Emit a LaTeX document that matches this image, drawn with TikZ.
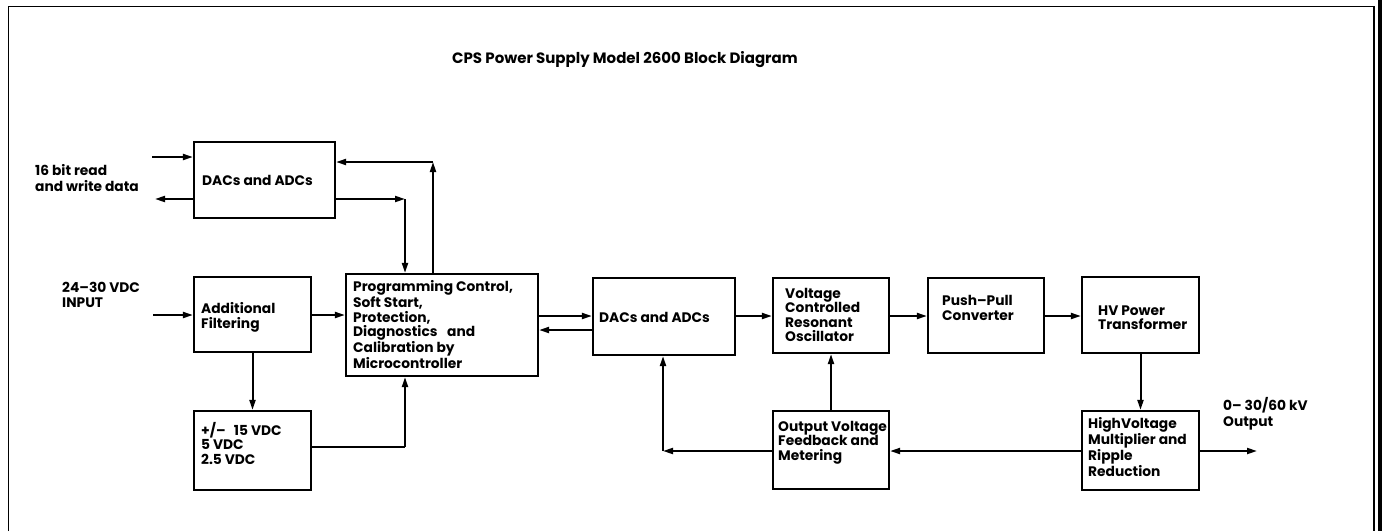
\documentclass[tikz,border=0pt]{standalone}
\usepackage{fontspec}
\setmainfont{Poppins}
\usetikzlibrary{arrows.meta}
\begin{document}
\begin{tikzpicture}[x=1pt,y=-1pt,
  blk/.style={draw,line width=2.2pt,rectangle,inner sep=0pt},
  txt/.style={anchor=west,align=left,inner sep=0pt,font=\bfseries\fontsize{13.8}{14.5}\selectfont},
  conn/.style={line width=2pt},
  arr/.style={conn,-{Triangle[length=10pt,width=6pt]}},
  frame/.style={line width=1.3pt}]
\useasboundingbox (0,0) rectangle (1382,531);
% frame
\draw[frame] (8.5,531) -- (8.5,6.5) -- (1374,6.5) -- (1374,531);
\fill (1378,0) rectangle (1382,531);

% title
\node[txt,font=\bfseries\fontsize{15}{16}\selectfont] (title) at (452,60) {CPS Power Supply Model 2600 Block Diagram};

% boxes
\node[blk,minimum width=141pt,minimum height=76pt] (dact) at (264.5,180) {};
\node[blk,minimum width=117pt,minimum height=75pt] (filt) at (252.5,314.5) {};
\node[blk,minimum width=117pt,minimum height=79pt] (pwr) at (252.5,450.5) {};
\node[blk,minimum width=192pt,minimum height=102pt] (prog) at (442,325) {};
\node[blk,minimum width=142pt,minimum height=77pt] (dacm) at (664,316.5) {};
\node[blk,minimum width=116pt,minimum height=75pt] (vco) at (831,315.5) {};
\node[blk,minimum width=116pt,minimum height=75pt] (pp) at (986,315.5) {};
\node[blk,minimum width=117pt,minimum height=76pt] (hv) at (1140.5,315) {};
\node[blk,minimum width=116pt,minimum height=78pt] (ovf) at (831,450) {};
\node[blk,minimum width=117pt,minimum height=79pt] (hvm) at (1140.5,450.5) {};

% texts
\node[txt,font=\bfseries\fontsize{13.8}{16}\selectfont] (t16) at (35,178) {16 bit read\\and write data};
\node[txt] (tdact) at (202,180) {DACs and ADCs};
\node[txt,font=\bfseries\fontsize{13.8}{15}\selectfont] (t24) at (62,294.5) {24--30 VDC\\INPUT};
\node[txt] (tfilt) at (201,317.5) {Additional\\Filtering};
\node[txt] (tpwr) at (201,443) {+/--\hspace{0.6em}15 VDC\\5 VDC\\2.5 VDC};
\node[txt] (tprog) at (353,324.5) {Programming Control,\\Soft Start,\\Protection,\\Diagnostics\hspace{0.7em}and\\Calibration by\\Microcontroller};
\node[txt] (tdacm) at (599,317) {DACs and ADCs};
\node[txt] (tvco) at (785,315) {Voltage\\Controlled\\Resonant\\Oscillator};
\node[txt] (tpp) at (942,308) {Push--Pull\\Converter};
\node[txt] (thv) at (1098,317.5) {HV Power\\Transformer};
\node[txt] (tovf) at (778,442.5) {Output Voltage\\Feedback and\\Metering};
\node[txt] (thvm) at (1088,447) {HighVoltage\\Multiplier and\\Ripple\\Reduction};
\node[txt,font=\bfseries\fontsize{13.8}{16}\selectfont] (tout) at (1223,414) {0-- 30/60 kV\\Output};

% free-end coordinates
\coordinate (in16) at (152,157);
\coordinate (out16) at (155,199);
\coordinate (c1) at (433,162);
\coordinate (c2) at (405,199);
\coordinate (in24) at (153,315);
\coordinate (c3) at (405,447);
\coordinate (c4) at (663,451);
\coordinate (outhv) at (1257,451);

% connectors
\draw[arr] (in16) -- (in16 -| dact.west);
\draw[arr] (out16 -| dact.west) -- (out16);
\draw[arr] (c1 |- prog.north) -- (c1);
\draw[arr] (c1) -- (c1 -| dact.east);
\draw[arr] (c2 -| dact.east) -- (c2);
\draw[arr] (c2) -- (c2 |- prog.north);
\draw[arr] (in24) -- (in24 -| filt.west);
\draw[arr] (in24 -| filt.east) -- (in24 -| prog.west);
\draw[arr] (filt.south) -- (pwr.north);
\draw[conn] (c3 -| pwr.east) -- (c3);
\draw[arr] (c3) -- (c3 |- prog.south);
\draw[arr] (prog.east |- 0,316) -- (dacm.west |- 0,316);
\draw[arr] (dacm.west |- 0,330) -- (prog.east |- 0,330);
\draw[arr] (dacm.east |- 0,316) -- (vco.west |- 0,316);
\draw[arr] (vco.east |- 0,316) -- (pp.west |- 0,316);
\draw[arr] (pp.east |- 0,316) -- (hv.west |- 0,316);
\draw[arr] (hv.south) -- (hvm.north);
\draw[arr] (hvm.west |- c4) -- (ovf.east |- c4);
\draw[arr] (ovf.west |- c4) -- (c4);
\draw[arr] (c4) -- (c4 |- dacm.south);
\draw[arr] (ovf.north) -- (vco.south);
\draw[arr] (hvm.east |- outhv) -- (outhv);
\end{tikzpicture}
\end{document}
